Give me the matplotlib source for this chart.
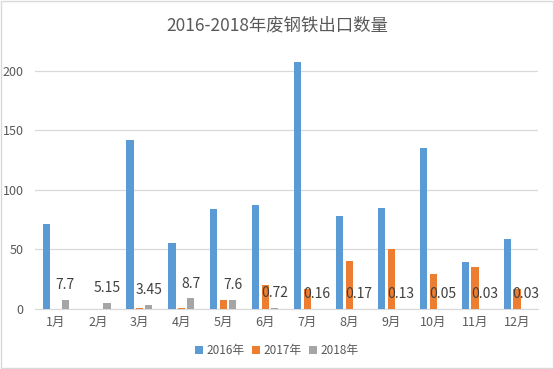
import matplotlib
matplotlib.use("Agg")
import matplotlib.pyplot as plt
import numpy as np

plt.rcParams['font.family'] = ['Noto Sans CJK SC', 'DejaVu Sans']
plt.rcParams['axes.unicode_minus'] = False

# 数据
months = ['1月', '2月', '3月', '4月', '5月', '6月', '7月', '8月', '9月', '10月', '11月', '12月']
y2016 = [71, 0, 142, 55, 84, 87, 207, 78, 85, 135, 39, 59]
y2017 = [0, 0, 1, 1, 7.6, 20, 17, 40, 50, 29, 35.5, 17]
y2018 = [7.7, 5.15, 3.45, 8.7, 7.6, 0.72, 0.16, 0.17, 0.13, 0.05, 0.03, 0.03]
labels2018 = ['7.7', '5.15', '3.45', '8.7', '7.6', '0.72', '0.16', '0.17', '0.13', '0.05', '0.03', '0.03']

c16, c17, c18 = '#5B9BD5', '#ED7D31', '#A5A5A5'
txt = '#595959'


def draw():
    fig = plt.figure(figsize=(5.54, 3.69), dpi=100)
    ax = fig.add_axes([0.063, 0.163, 0.908, 0.71])
    x = np.arange(len(months))
    w = 0.17
    ax.bar(x - 0.23, y2016, w, color=c16, label='2016年', zorder=3)
    ax.bar(x, y2017, w, color=c17, label='2017年', zorder=3)
    bars = ax.bar(x + 0.22, y2018, w, color=c18, label='2018年', zorder=3)

    for b, t in zip(bars, labels2018):
        ax.annotate(t, (b.get_x() + b.get_width() / 2, b.get_height()),
                    xytext=(0, 10.5), textcoords='offset points',
                    ha='center', va='center', fontsize=10, color='#404040', zorder=4)

    ax.set_xlim(-0.5, 11.5)
    ax.set_ylim(0, 220)
    ax.set_yticks([0, 50, 100, 150, 200])
    ax.set_xticks(x)
    ax.set_xticklabels(months)
    ax.tick_params(axis='both', length=0, labelsize=9, colors=txt)
    ax.tick_params(axis='x', pad=5)
    ax.tick_params(axis='y', pad=8)
    ax.grid(axis='y', color='#D9D9D9', linewidth=0.9, zorder=0)
    for s in ['top', 'right', 'left']:
        ax.spines[s].set_visible(False)
    ax.spines['bottom'].set_color('#D9D9D9')

    fig.text(0.5, 0.93, '2016-2018年废钢铁出口数量', ha='center', va='center',
             fontsize=12.5, color=txt)
    fig.legend(loc='center', bbox_to_anchor=(0.5, 0.05), ncol=3, frameon=False,
               fontsize=8.5, handlelength=0.7, handleheight=0.7, handletextpad=0.3,
               columnspacing=0.6, labelcolor=txt)
    fig.patches.append(plt.Rectangle((0.002, 0.003), 0.996, 0.994, transform=fig.transFigure,
                                     fill=False, edgecolor='#D9D9D9', linewidth=1))
    fig.savefig('out.png', dpi=100)


if __name__ == '__main__':
    draw()
